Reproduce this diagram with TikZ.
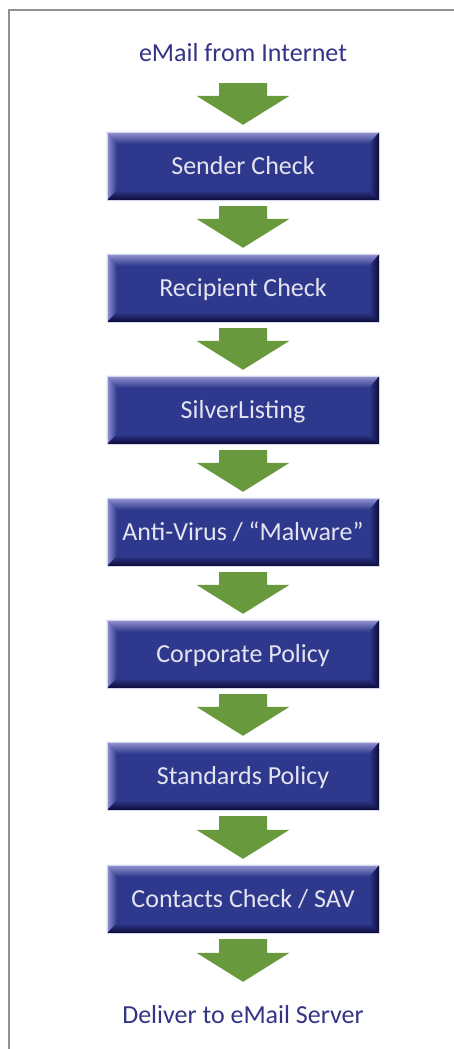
\documentclass[tikz,border=0pt]{standalone}
\usepackage{fontspec}
\setmainfont{Carlito}
\usetikzlibrary{calc}
\definecolor{boxblue}{RGB}{46,56,140}
\definecolor{boxlight}{RGB}{150,150,210}
\definecolor{boxdark}{RGB}{12,10,55}
\definecolor{arrowgreen}{RGB}{104,153,61}
\definecolor{labelblue}{RGB}{52,52,135}
\definecolor{boxtext}{RGB}{228,228,240}
\definecolor{framegray}{RGB}{145,145,145}
\newcommand\flowarrow[4]{%
  \fill[arrowgreen] let \p1=($(#1.south)+(0,#3)$), \p2=($(#2.north)+(0,-#4)$) in
    (\x1-24pt,\y1) -- (\x1+24pt,\y1) -- (\x1+24pt,\y2+29pt) -- (\x1+46.5pt,\y2+29pt)
    -- (\x1,\y2) -- (\x1-46.5pt,\y2+29pt) -- (\x1-24pt,\y2+29pt) -- cycle;}
\newcommand\bevel[1]{%
  \shade[left color=boxlight, right color=boxblue] (#1.north west) -- (#1.south west) -- ($(#1.south west)+(10,-10)$) -- ($(#1.north west)+(10,12)$) -- cycle;
  \shade[left color=boxblue, right color=boxdark] (#1.north east) -- (#1.south east) -- ($(#1.south east)+(-10,-10)$) -- ($(#1.north east)+(-10,12)$) -- cycle;
  \shade[top color=boxlight, bottom color=boxblue] (#1.north west) -- (#1.north east) -- ($(#1.north east)+(-10,12)$) -- ($(#1.north west)+(10,12)$) -- cycle;
  \shade[top color=boxblue, bottom color=boxdark] (#1.south west) -- (#1.south east) -- ($(#1.south east)+(-10,-10)$) -- ($(#1.south west)+(10,-10)$) -- cycle;
  \draw[boxlight!40, line width=0.6pt] (#1.north west) rectangle (#1.south east);}
\begin{document}
\begin{tikzpicture}[x=1pt,y=-1pt,
  stepbox/.style={fill=boxblue, minimum width=272pt, minimum height=68pt, inner sep=0pt,
    text=boxtext, font=\fontsize{26}{30}\selectfont, text height=22pt, text depth=5pt},
  endlabel/.style={text=labelblue, font=\fontsize{26}{30}\selectfont, minimum height=40pt,
    inner sep=0pt, text height=22pt, text depth=5pt}]
\useasboundingbox (0,0) rectangle (454,1049);
\fill[white] (0,0) rectangle (454,1049);
\draw[framegray, line width=2.2pt] (9,1049) -- (9,10) -- (454,10);
\node[endlabel] (in) at (243,53) {eMail from Internet};
\node[stepbox] (b1) at (243,166) {Sender Check};
\node[stepbox] (b2) at (243,288) {Recipient Check};
\node[stepbox] (b3) at (243,410) {SilverListing};
\node[stepbox] (b4) at (243,532) {Anti-Virus / “Malware”};
\node[stepbox] (b5) at (243,654) {Corporate Policy};
\node[stepbox] (b6) at (243,776) {Standards Policy};
\node[stepbox] (b7) at (243,899) {Contacts Check / SAV};
\node[endlabel] (out) at (243,1015) {Deliver to eMail Server};
\foreach \n in {b1,b2,b3,b4,b5,b6,b7} {\bevel{\n}}
\flowarrow{in}{b1}{10}{7}
\flowarrow{b1}{b2}{6}{6}
\flowarrow{b2}{b3}{6}{6}
\flowarrow{b3}{b4}{6}{6}
\flowarrow{b4}{b5}{6}{6}
\flowarrow{b5}{b6}{6}{6}
\flowarrow{b6}{b7}{6}{6}
\flowarrow{b7}{out}{6}{13}
\end{tikzpicture}
\end{document}
